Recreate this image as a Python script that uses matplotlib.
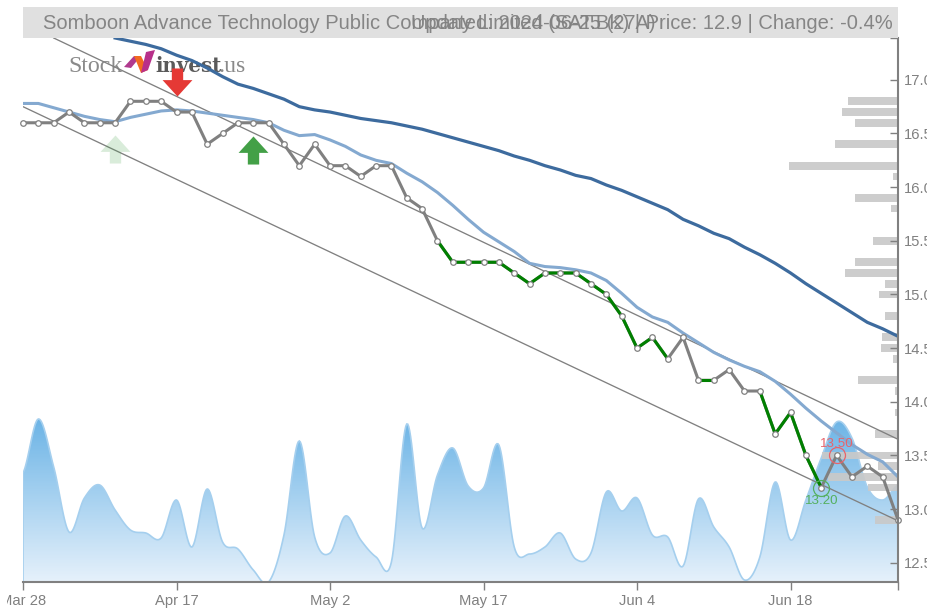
import numpy as np
import matplotlib
matplotlib.use('Agg')
import matplotlib.pyplot as plt
from matplotlib.colors import LinearSegmentedColormap
from matplotlib.patches import Rectangle, Polygon
from matplotlib.path import Path
from matplotlib.transforms import Bbox

plt.rcParams['font.family'] = ['Liberation Sans', 'DejaVu Sans']

W, H = 928, 610
GREY = '#808080'

# closing price per trading day
closes = [16.6, 16.6, 16.6, 16.7, 16.6, 16.6, 16.6, 16.8, 16.8, 16.8,
          16.7, 16.7, 16.4, 16.5, 16.6, 16.6, 16.6, 16.4, 16.2, 16.4,
          16.2, 16.2, 16.1, 16.2, 16.2, 15.9, 15.8, 15.5, 15.3, 15.3,
          15.3, 15.3, 15.2, 15.1, 15.2, 15.2, 15.2, 15.1, 15.0, 14.8,
          14.5, 14.6, 14.4, 14.6, 14.2, 14.2, 14.3, 14.1, 14.1, 13.7,
          13.9, 13.5, 13.2, 13.5, 13.3, 13.4, 13.3, 12.9]

# segments drawn green (start index, end index)
green_runs = [(27, 42), (44, 45), (48, 52)]

sma_short = [16.78, 16.78, 16.74, 16.70, 16.66, 16.63, 16.61, 16.65, 16.68, 16.71,
             16.72, 16.71, 16.69, 16.67, 16.65, 16.63, 16.60, 16.53, 16.48, 16.49,
             16.44, 16.38, 16.30, 16.25, 16.22, 16.13, 16.05, 15.95, 15.83, 15.70,
             15.58, 15.49, 15.40, 15.29, 15.26, 15.25, 15.23, 15.20, 15.13, 15.01,
             14.88, 14.79, 14.74, 14.64, 14.55, 14.46, 14.39, 14.33, 14.28, 14.19,
             14.07, 13.94, 13.82, 13.71, 13.60, 13.51, 13.44, 13.30]

sma_long_start = 6
sma_long = [17.39, 17.36, 17.33, 17.29, 17.23, 17.18, 17.11, 17.03, 16.96, 16.92,
            16.87, 16.82, 16.75, 16.72, 16.70, 16.67, 16.64, 16.62, 16.60, 16.57,
            16.54, 16.50, 16.46, 16.42, 16.38, 16.34, 16.29, 16.25, 16.20, 16.16,
            16.11, 16.08, 16.02, 15.97, 15.91, 15.85, 15.79, 15.70, 15.64, 15.57,
            15.52, 15.44, 15.37, 15.29, 15.20, 15.10, 15.01, 14.92, 14.83, 14.74,
            14.68, 14.61]

channel_upper_x = [2, 57]
channel_upper_y = [17.39, 13.65]
channel_lower_x = [0, 57]
channel_lower_y = [16.75, 12.89]

volume = [109, 163, 115, 50, 84, 97, 72, 52, 49, 44,
          82, 35, 93, 40, 33, 12, 0, 47, 141, 45,
          29, 66, 42, 25, 20, 158, 54, 107, 134, 96,
          94, 137, 35, 28, 35, 49, 23, 29, 90, 71,
          84, 47, 45, 16, 83, 55, 35, 2, 25, 100,
          42, 82, 124, 160, 144, 95, 82, 97]

profile_levels = [16.8, 16.7, 16.6, 16.4, 16.2, 16.1, 15.9, 15.8, 15.5, 15.3, 15.2, 15.1, 15.0,
                  14.8, 14.6, 14.5, 14.4, 14.2, 14.1, 13.9, 13.7, 13.5, 13.4, 13.3, 13.2, 12.9]
profile_sizes = [50, 56, 43, 63, 109, 5, 43, 7, 25, 43, 53, 13, 19,
                 13, 16, 17, 5, 40, 3, 3, 23, 76, 20, 70, 30, 23]

xtick_pos = [0, 10, 20, 30, 40, 50]
xtick_labels = ['Mar 28', 'Apr 17', 'May 2', 'May 17', 'Jun 4', 'Jun 18']
ytick_pos = [12.5, 13.0, 13.5, 14.0, 14.5, 15.0, 15.5, 16.0, 16.5, 17.0]

n_days = len(closes) - 1
ymin, ymax = 12.32, 17.39
days = np.arange(len(closes))


def smooth(x, y, steps=16):
    # catmull-rom through the daily values
    px, py = [], []
    y = list(y)
    for i in range(len(y) - 1):
        p0 = y[max(i - 1, 0)]
        p1 = y[i]
        p2 = y[i + 1]
        p3 = y[min(i + 2, len(y) - 1)]
        t = np.linspace(0, 1, steps, endpoint=False)
        v = 0.5 * (2 * p1 + (p2 - p0) * t + (2 * p0 - 5 * p1 + 4 * p2 - p3) * t ** 2
                   + (3 * p1 - p0 - 3 * p2 + p3) * t ** 3)
        px.extend(x[i] + t * (x[i + 1] - x[i]))
        py.extend(v)
    px.append(x[-1])
    py.append(y[-1])
    return np.array(px), np.clip(py, 0, None)


def fx(p):
    return p / W


def fy(p):
    return 1 - p / H


fig = plt.figure(figsize=(W / 100, H / 100), dpi=100, facecolor='white')
box = [fx(23), fy(582), fx(898) - fx(23), fy(38) - fy(582)]

# volume area behind everything
ax_vol = fig.add_axes(box, zorder=1)
ax_vol.axis('off')
vx, vy = smooth(days, volume)
cmap = LinearSegmentedColormap.from_list('vol', ['#e6f1fb', '#6cb4e6'])
grad = np.linspace(0, 1, 256).reshape(-1, 1)
im = ax_vol.imshow(grad, origin='lower', aspect='auto', cmap=cmap,
                   extent=[0, n_days, 0, max(volume)])
outline = np.column_stack([np.r_[0, vx, n_days], np.r_[0, vy, 0]])
clip = Polygon(outline, closed=True, facecolor='none', edgecolor='#a5cfee', lw=1.2)
ax_vol.add_patch(clip)
im.set_clip_path(clip)
ax_vol.set_xlim(0, n_days)
ax_vol.set_ylim(0, 544)

# price profile on the right
ax_prof = fig.add_axes(box, zorder=2)
ax_prof.axis('off')
ax_prof.barh(profile_levels, profile_sizes, height=0.072, color='#c9c9c9', alpha=0.92)
ax_prof.set_xlim(875, 0)
ax_prof.set_ylim(ymin, ymax)

# price chart
ax = fig.add_axes(box, zorder=3)
ax.patch.set_alpha(0)
ax.set_xlim(0, n_days)
ax.set_ylim(ymin, ymax)

ax.plot(channel_upper_x, channel_upper_y, color=GREY, lw=0.95)
ax.plot(channel_lower_x, channel_lower_y, color=GREY, lw=0.95)
ax.plot(days, sma_short, color='#84a9d0', lw=2.2, solid_capstyle='round')
ax.plot(days[sma_long_start:], sma_long, color='#3d6b9e', lw=2.3)

ax.plot(days, closes, color=GREY, lw=2.2)
for a, b in green_runs:
    ax.plot(days[a:b + 1], closes[a:b + 1], color='#008000', lw=2.2)
ax.plot(days, closes, ls='none', marker='o', ms=4, mfc='white', mec=GREY, mew=0.9, clip_on=False)

# buy and sell arrows
arrow = Path([(-0.5, -0.08), (-0.19, -0.08), (-0.19, -0.47), (0.19, -0.47), (0.19, -0.08), (0.5, -0.08),
              (0.0, 0.47), (-0.5, -0.08)], closed=True)
down = Path(arrow.vertices * [1, -1], closed=True)
ax.plot([10], [16.98], ls='none', marker=down, ms=21.5, mfc='#e53935', mec='none')
ax.plot([15], [16.35], ls='none', marker=arrow, ms=21.5, mfc='#43a047', mec='none')
ax.plot([6], [16.36], ls='none', marker=arrow, ms=21.5, mfc='#43a047', mec='none', alpha=0.2)

# high and low of the last days
ax.plot([53], [13.5], ls='none', marker='o', ms=11.5, mfc='none', mec='#e8636a', mew=0.9)
ax.plot([52], [13.2], ls='none', marker='o', ms=11.5, mfc='none', mec='#55b060', mew=0.9)
ax.annotate('13.50', (53, 13.5), xytext=(0, 8), textcoords='offset points', ha='center', va='center',
            fontsize=9.6, color='#e8636a')
ax.annotate('13.20', (52, 13.2), xytext=(0, -10), textcoords='offset points', ha='center', va='center',
            fontsize=9.6, color='#55b060')

for s in ['top', 'left']:
    ax.spines[s].set_visible(False)
for s in ['right', 'bottom']:
    ax.spines[s].set_color(GREY)
    ax.spines[s].set_linewidth(1.5)

ax.yaxis.tick_right()
ax.set_yticks(ytick_pos, [f'{v:.1f}' for v in ytick_pos])
ax.set_yticks([ymax], minor=True)
ax.set_xticks(xtick_pos, xtick_labels)
ax.set_xticks([n_days], minor=True)
ax.tick_params(axis='y', which='both', direction='in', length=6, width=1, color=GREY,
               labelcolor=GREY, labelsize=10.6, pad=4)
ax.tick_params(axis='x', which='both', direction='out', length=6, width=1, color=GREY,
               labelcolor=GREY, labelsize=10.6, pad=2.4)
# first date label is cut off on the left
first = ax.get_xticklabels()[0]
first.set_clip_box(Bbox([[7, 0], [W, H]]))
first.set_clip_on(True)

# header bar
fig.add_artist(Rectangle((fx(23), fy(38)), fx(898) - fx(23), fy(7) - fy(38), transform=fig.transFigure,
                         facecolor='#e0e0e0', edgecolor='none', zorder=4))
fig.text(fx(468), fy(23.5), 'Somboon Advance Technology Public Company Limited (SAT.BK) | Price: 12.9 | Change: -0.4%',
         ha='center', va='center', fontsize=14.5, color=GREY, alpha=0.95, zorder=5)
fig.text(fx(411), fy(23.5), 'Updated: 2024-06-25 (27A)', ha='left', va='center', fontsize=14.5,
         color=GREY, alpha=0.95, zorder=5)

# logo
fig.text(fx(68), fy(72), 'Stock', family='Liberation Serif', fontsize=17.2, color='#8a8a8a', zorder=0.5)
fig.text(fx(155), fy(72), 'invest', family='DejaVu Serif', fontweight='bold', fontsize=14.2,
         color='#5a5a5a', zorder=0.5)
fig.text(fx(218), fy(72), '.us', family='Liberation Serif', fontsize=17.2, color='#8a8a8a', zorder=0.5)
logo_parts = [([(124, 67), (134, 56), (141, 56), (131, 68)], '#b03a8e'),
              ([(134, 56), (141, 56), (148, 70), (141, 73)], '#f26a21'),
              ([(141, 73), (148, 70), (155, 50), (146, 52)], '#b8308a')]
for pts, c in logo_parts:
    fig.add_artist(Polygon([(fx(a), fy(b)) for a, b in pts], closed=True, transform=fig.transFigure,
                           facecolor=c, edgecolor='none', zorder=0.6))

fig.savefig('out.png', dpi=100)
